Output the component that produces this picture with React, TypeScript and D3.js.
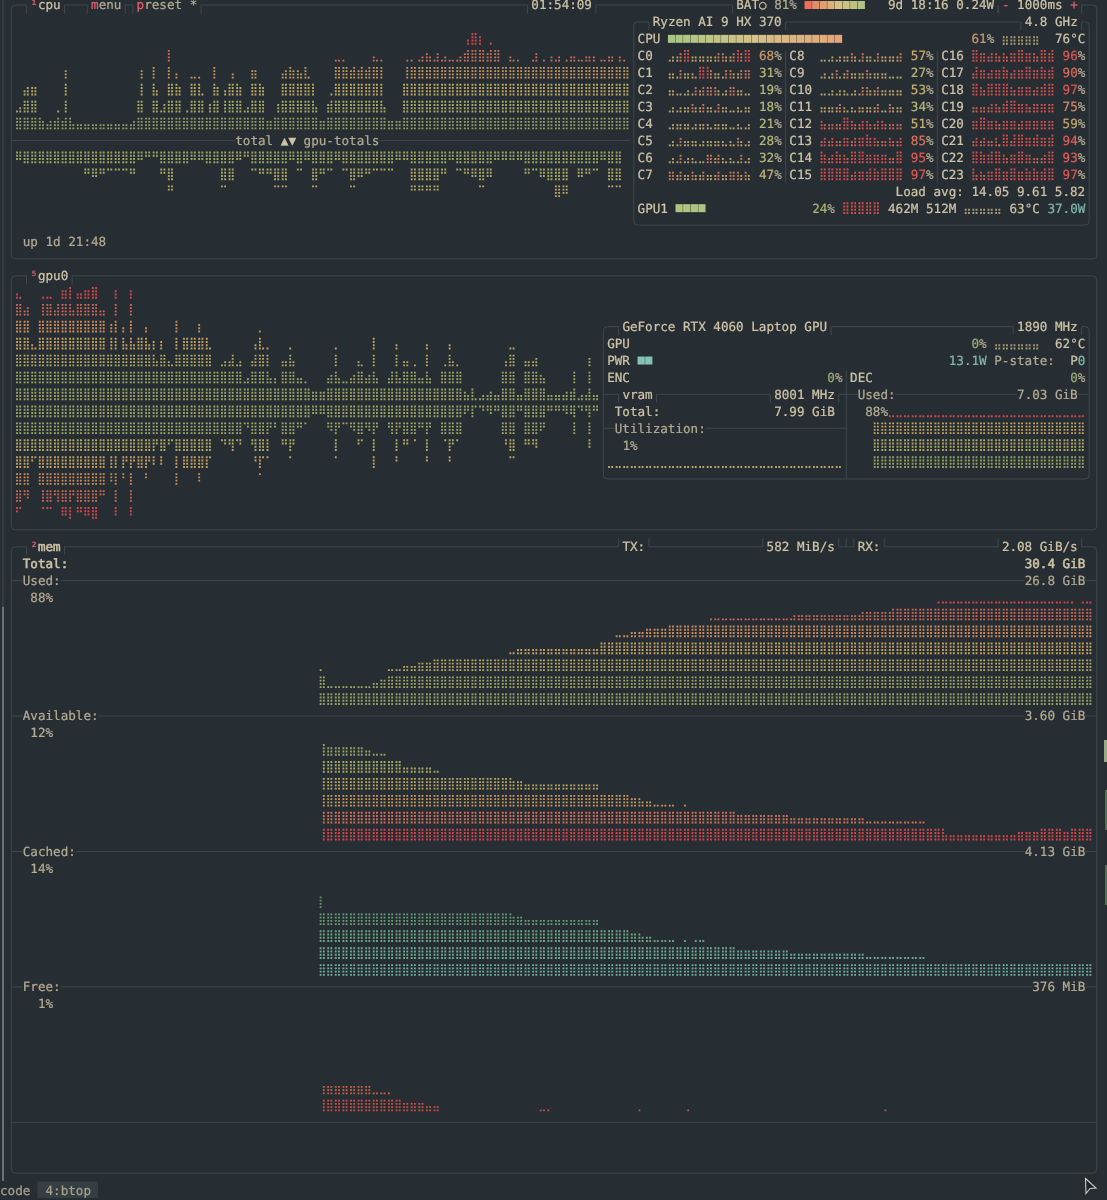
import * as d3 from 'd3'

const CW = 7.59
const RH = 16.93
const DOT_W = 1.85
const DOT_H = 1.9
const DOT_STEP_X = 3.2
const DOT_STEP_Y = 3.25

const BG = '#272e33'
const LINE = '#3d484d'
const FG = '#cfc3a7'
const DIM = '#b3aa92'
const RED = '#e0626a'
const TEAL = '#7fb8aa'

// cpu graph, dots per dot column (two per cell)
const cpuTotal = [
  5,6, 10,11, 11,11, 4,3, 2,3, 3,5, 3,15, 4,2, 2,2, 2,2, 2,2, 2,2, 2,2, 2,2, 2,2, 2,3,
  8,15, 4,4, 16,10, 5,7, 20,12, 14,11, 4,5, 13,13, 13,9, 4,7, 16,11, 4,10, 12,14, 12,11, 5,6, 15,15,
  12,11, 3,3, 4,7, 14,15, 16,15, 15,14, 16,13, 12,6, 3,3, 7,9, 17,17, 17,16, 15,16, 15,16, 15,16, 18,17,
  17,6, 3,3, 3,3, 12,17, 17,16, 17,18, 19,18, 17,19, 17,18, 17,17, 17,18, 19,22, 24,24, 23,20, 19,21, 20,20,
  16,16, 18,17, 17,16, 16,16, 17,19, 16,17, 16,18, 17,18, 16,17, 18,18, 17,17, 18,18, 18,16, 17,17, 18,18, 16,18, 17,16,
]
const gpuTotals = [
  3,3, 4,4, 4,4, 4,4, 4,4, 4,4, 4,4, 4,4, 4,4, 6,6, 7,7, 6,6, 5,5, 5,5, 5,5, 6,6, 3,3, 2,2, 2,2, 6,6,
  10,10, 4,4, 4,4, 3,3, 3,3, 4,4, 4,4, 9,9, 8,8, 3,3, 2,2, 5,5, 6,6, 6,6, 9,9, 9,9, 3,3, 5,5, 3,3, 9,9,
  6,6, 5,5, 3,3, 5,5, 9,9, 7,7, 6,6, 5,5, 5,5, 5,5, 3,3, 3,3, 10,10, 10,10, 10,10, 10,10, 6,6, 3,3, 5,5, 6,6,
  7,7, 9,9, 7,7, 3,3, 3,3, 3,3, 3,3, 6,6, 5,5, 7,7, 8,8, 12,12, 11,11, 4,4, 7,7, 6,6, 5,5, 3,3, 9,9, 9,9,
]

// gpu0 mirrored graph
const gpuLoad = [
  26,25, 22,23, 14,13, 20,25, 25,25, 22,24, 27,27, 28,22, 26,26, 27,27, 28,28, 22,22, 12,19, 27,12, 18,14, 27,14,
  16,16, 18,14, 15,10, 15,12, 10,9, 20,12, 16,16, 16,16, 19,16, 16,13, 8,8, 9,10, 10,12, 9,10, 5,6, 10,14,
  17,13, 13,6, 6,4, 10,10, 13,10, 6,6, 5,4, 3,3, 3,3, 6,7, 13,6, 5,5, 6,7, 10,9, 6,7, 16,6, 4,4, 6,8,
  14,6, 10,10, 8,9, 6,6, 14,6, 4,4, 8,9, 14,10, 9,8, 3,2, 4,1, 1,2, 2,3, 2,2, 8,10, 13,13, 2,2, 10,10,
  10,11, 7,6, 2,2, 2,2, 2,3, 3,8, 1,2, 2,11, 2,2,
]

// memory graphs, [height in dots, dot columns]
const memUsed = [[9,1],[8,1],[5,12],[6,2],[7,2],[9,2],[9,2],[10,4],[11,4],[12,20],[13,2],[14,22],[16,4],[17,4],[18,4],[19,6],[20,11],[21,22],[22,18],[23,8],[24,12],[25,36],[24,2],[25,3]]
const memAvailable = [[0,1],[24,1],[23,10],[22,2],[21,4],[20,4],[18,8],[17,2],[16,19],[15,3],[14,20],[12,8],[11,3],[10,3],[9,6],[8,2],[9,1],[8,13],[7,14],[6,20],[5,16],[4,5],[2,19],[3,6],[4,6],[3,2],[4,6]]
const memCached = [[20,1],[16,50],[15,3],[14,20],[12,8],[11,3],[10,3],[9,6],[8,2],[9,1],[8,2],[9,3],[8,8],[7,14],[6,20],[5,16],[4,44]]
const memFree = [[0,1],[7,1],[7,12],[5,5],[4,3],[3,6],[2,4],[0,26],[1,3],[0,23],[1,1],[0,12],[1,1],[0,51],[1,1],[0,54]]

const coreNames = ['C0','C1','C2','C3','C4','C5','C6','C7','C8','C9','C10','C11','C12','C13','C14','C15','C16','C17','C18','C19','C20','C21','C22','C23']
const corePct = [68,31,19,18,21,28,32,47,57,27,53,34,51,85,95,97,96,90,97,75,59,94,93,97]
const coreHist = [
  [1,2,2,3,4,4,2,2,2,2,2,2,2,3,3,2,2,3,4,3,4,4],
  [2,2,1,3,2,2,2,1,4,4,4,3,2,2,1,3,3,2,2,3,3,3],
  [2,2,1,1,1,2,1,3,2,3,3,3,3,2,1,2,3,3,2,2,1,1],
  [1,2,1,2,2,2,3,2,2,3,2,2,1,3,2,2,1,1,2,1,2,2],
  [1,2,2,2,2,2,1,2,2,2,2,1,2,2,2,2,1,1,2,1,1,2],
  [1,2,1,3,2,2,2,2,1,2,2,2,2,2,2,1,2,1,3,2,1,2],
  [1,2,1,3,1,2,2,1,1,1,3,3,2,3,2,1,2,1,1,3,1,2],
  [3,3,2,3,2,2,3,2,2,3,2,2,2,3,2,2,3,3,3,2,3,2],
  [1,1,1,2,1,2,2,2,3,2,1,3,2,2,1,3,2,2,2,2,2,3],
  [1,2,1,2,3,1,2,3,2,2,2,2,3,2,2,2,2,2,1,1,1,1],
  [1,1,1,2,1,2,2,1,1,2,1,3,3,2,2,3,2,2,2,2,2,2],
  [2,2,2,2,2,3,2,1,2,1,2,2,2,2,2,3,1,1,3,2,2,2],
  [3,2,2,2,2,2,4,4,3,2,2,3,3,2,2,3,3,2,2,2,2,2],
  [2,3,2,3,2,2,3,3,2,3,3,3,4,3,3,2,2,2,3,2,2,3],
  [4,3,2,3,4,3,3,2,4,4,4,4,3,3,3,3,3,3,2,2,4,4],
  [4,4,4,4,4,4,4,4,2,3,3,3,3,4,4,3,4,4,4,4,4,4],
  [4,4,3,3,2,3,3,2,3,2,3,3,4,4,3,3,3,2,4,4,3,4],
  [2,4,3,3,2,3,3,3,4,3,2,3,3,3,4,4,3,3,4,3,3,4],
  [4,4,3,2,4,4,4,4,4,4,3,2,3,3,3,3,2,3,3,4,4,4],
  [2,2,2,2,2,3,3,2,3,4,4,4,3,3,3,2,3,3,3,3,3,3],
  [3,3,4,4,3,3,3,2,3,3,3,3,2,3,3,3,3,3,3,3,3,3],
  [2,3,2,3,2,2,3,1,4,4,2,4,4,4,3,3,3,4,3,3,3,4],
  [4,4,4,3,3,4,4,4,3,2,3,3,4,4,3,3,2,2,2,3,4,4],
  [4,2,3,2,3,3,4,4,3,3,4,4,3,3,4,3,4,3,3,4,4,4],
]

const batteryBlocks = ['#ee6e5c','#e88a6c','#e09e74','#dcb07a','#d9bf80','#cdc280','#bdc282','#b2c284']
const cpuBarPct = 23
const gpu1BarBlocks = 4
const pwrBarBlocks = 2

const colX = d3.scaleLinear().domain([0, 146]).range([0, 146 * CW])
const rowY = d3.scaleLinear().domain([0, 71]).range([5, 5 + 71 * RH])
const heat = d3.scaleLinear<string>().domain([0, 0.2, 0.4, 0.6, 0.8, 1]).range(['#949f64', '#a6a764', '#bda862', '#c9985c', '#d0705a', '#d4464a'])
const tealHeat = d3.scaleLinear<string>().domain([0, 1]).range(['#6fb09f', '#67966c'])
const pctColor = d3.scaleLinear<string>().domain([0, 50, 75, 100]).range(['#a3bd7f', '#c4b26f', '#d28a68', '#e04f4f'])
const miniColor = d3.scaleLinear<string>().domain([1, 2, 3, 4]).range(['#b5a76e', '#c2a468', '#cc7a5e', '#d64f4f']).clamp(true)
const cpuBarColor = d3.scaleLinear<string>().domain([0, 0.5, 1]).range(['#a9c682', '#d5c288', '#e2a67a'])

const expand = (runs: number[][]) => d3.merge<number>(runs.map(([v, n]) => d3.range(n).map(() => v)))

function dotsByRow(values: number[], col: number, baseRow: number, dir: number) {
  const rows = new Map<number, d3.Path>()
  values.forEach((v, j) => {
    const x = colX(col + Math.floor(j / 2)) + 0.9 + (j % 2) * DOT_STEP_X
    for (let k = 0; k < v; k++) {
      const r = baseRow - dir * Math.floor(k / 4)
      const y = rowY(r) + dir * (1.5 - k % 4) * DOT_STEP_Y
      if (!rows.has(r)) rows.set(r, d3.path())
      rows.get(r)!.rect(x, y - DOT_H / 2, DOT_W, DOT_H)
    }
  })
  return [...rows.entries()]
}

// dir 1 grows upward from baseRow, -1 grows downward
function Graph({ values, col, baseRow, dir = 1, color }: { values: number[]; col: number; baseRow: number; dir?: number; color: (r: number) => string }) {
  return (
    <g>
      {dotsByRow(values, col, baseRow, dir).map(([r, p]) => (
        <path key={r} d={p.toString()} fill={color(r)} />
      ))}
    </g>
  )
}

function T({ c, r, fill = FG, children, thick = 0.22 }: { c: number; r: number; fill?: string; children: any; thick?: number }) {
  return (
    <text x={colX(c)} y={rowY(r) + 4.4} fill={fill} stroke={fill} strokeWidth={thick} xmlSpace="preserve">
      {children}
    </text>
  )
}

const mid = (c: number) => colX(c + 0.5)

function HSeg({ r, a, b }: { r: number; a: number; b: number }) {
  return <line x1={a} x2={b} y1={rowY(r)} y2={rowY(r)} stroke={LINE} />
}

function VSeg({ c, y0, y1 }: { c: number; y0: number; y1: number }) {
  return <line x1={mid(c)} x2={mid(c)} y1={y0} y2={y1} stroke={LINE} />
}

function Stub({ c, r, dir = 1 }: { c: number; r: number; dir?: number }) {
  return <VSeg c={c} y0={rowY(r)} y1={rowY(r) + dir * 8.4} />
}

function Frame({ c0, c1, r0, r1, gaps = [], stub = 1 }: { c0: number; c1: number; r0: number; r1: number; gaps?: number[][]; stub?: number }) {
  const x0 = mid(c0)
  const x1 = mid(c1)
  const y0 = rowY(r0)
  const y1 = rowY(r1)
  const rad = 4
  const p = d3.path()
  p.moveTo(x0 + rad, y0)
  p.quadraticCurveTo(x0, y0, x0, y0 + rad)
  p.lineTo(x0, y1 - rad)
  p.quadraticCurveTo(x0, y1, x0 + rad, y1)
  p.lineTo(x1 - rad, y1)
  p.quadraticCurveTo(x1, y1, x1, y1 - rad)
  p.lineTo(x1, y0 + rad)
  p.quadraticCurveTo(x1, y0, x1 - rad, y0)
  ;[...gaps].reverse().forEach(([a, b]) => {
    p.lineTo(mid(b), y0)
    p.moveTo(mid(a), y0)
  })
  p.lineTo(x0 + rad, y0)
  return (
    <g>
      <path d={p.toString()} fill="none" stroke={LINE} />
      {gaps.map(([a, b, dir]) => (
        <g key={a}>
          <Stub c={a} r={r0} dir={dir ?? stub} />
          <Stub c={b} r={r0} dir={dir ?? stub} />
        </g>
      ))}
    </g>
  )
}

function Bar({ c, r, colors }: { c: number; r: number; colors: string[] }) {
  return (
    <g>
      {colors.map((f, i) => (
        <rect key={i} x={colX(c + i)} y={rowY(r) - 4} width={CW - 0.35} height={8} fill={f} />
      ))}
    </g>
  )
}

function Pct({ c, r, value, fill }: { c: number; r: number; value: number; fill: string }) {
  return (
    <T c={c} r={r} fill={DIM}>
      <tspan fill={fill} stroke={fill}>{value}</tspan>%
    </T>
  )
}

export default function App() {
  const cpuRows = (r: number) => heat((7 - r) / 5)
  const gpuRows = (r: number) => heat(Math.abs(r - 23.5) < 1 ? 0.08 : (Math.abs(r - 23.5) - 0.5) / 6)
  const usedRows = (r: number) => heat((41 - r) / 6)
  const availRows = (r: number) => heat((r - 44) / 5)
  const cachedRows = (r: number) => tealHeat((57 - r) / 4)
  const coreCol = [84, 104, 124]

  return (
    <svg
      width={1107}
      height={1200}
      style={{ position: 'absolute', left: 0, top: 0, background: BG, filter: 'blur(0.35px)' }}
      fontFamily="'DejaVu Sans Mono', monospace"
      fontSize={12.6}
      textRendering="geometricPrecision"
    >
      {/* window edges */}
      <line x1={3} x2={3} y1={0} y2={607} stroke="#38444a" strokeWidth={1.5} />
      <line x1={3} x2={3} y1={607} y2={1181} stroke="#7f8d8a" strokeWidth={1.5} />
      <rect x={1104} y={740} width={3} height={22} fill="#9aa88c" />
      <rect x={1105} y={790} width={2} height={40} fill="#56704f" />
      <rect x={1105} y={865} width={2} height={40} fill="#56704f" />

      {/* cpu box */}
      <Frame c0={1} c1={144} r0={0} r1={15} gaps={[[3, 8], [11, 16], [17, 26], [69, 78], [96, 131], [131, 142]]} />
      <T c={4} r={0} fill={RED}>¹</T>
      <T c={5} r={0}>cpu</T>
      <T c={12} r={0} fill={DIM}><tspan fill={RED} stroke={RED}>m</tspan>enu</T>
      <T c={18} r={0} fill={DIM}><tspan fill={RED} stroke={RED}>p</tspan>reset *</T>
      <T c={70} r={0}>01:54:09</T>
      <T c={97} r={0}>BAT○</T>
      <T c={102} r={0} fill={DIM}>81%</T>
      <Bar c={106} r={0} colors={batteryBlocks} />
      <T c={117} r={0}>9d 18:16 0.24W</T>
      <T c={132} r={0} fill={RED}>-</T>
      <T c={134} r={0}>1000ms</T>
      <T c={141} r={0} fill={RED}>+</T>

      <Graph values={cpuTotal} col={2} baseRow={7} color={cpuRows} />
      <HSeg r={8} a={mid(1)} b={colX(31)} />
      <HSeg r={8} a={colX(50)} b={colX(83)} />
      <T c={31} r={8} fill={DIM}>total</T>
      <T c={37} r={8}>▲▼</T>
      <T c={40} r={8} fill={DIM}>gpu-totals</T>
      <Graph values={gpuTotals} col={2} baseRow={9} dir={-1} color={r => heat(0.12 + (r - 9) * 0.14)} />
      <T c={3} r={14} fill={DIM}>up 1d 21:48</T>

      {/* cpu info panel */}
      <Frame c0={83} c1={143} r0={1} r1={13} gaps={[[85, 103], [134, 142]]} />
      <T c={86} r={1}>Ryzen AI 9 HX 370</T>
      <T c={135} r={1}>4.8 GHz</T>
      <T c={84} r={2}>CPU</T>
      <Bar c={88} r={2} colors={d3.range(cpuBarPct).map(i => cpuBarColor(i / (cpuBarPct - 1)))} />
      <Pct c={128} r={2} value={61} fill="#cd9a6c" />
      <Graph values={[3,3,3,3,3,3,3,3,3,3]} col={132} baseRow={2} color={() => '#a89c74'} />
      <T c={139} r={2}>76°C</T>
      {coreNames.map((name, i) => {
        const g = Math.floor(i / 8)
        const r = 3 + (i % 8)
        const c = coreCol[g]
        return (
          <g key={name}>
            <T c={c} r={r}>{name}</T>
            {coreHist[i].map((h, j) => {
              const x = colX(c + 4 + Math.floor(j / 2)) + 0.9 + (j % 2) * DOT_STEP_X
              return d3.range(h).map(k => (
                <rect key={`${j}-${k}`} x={x} y={rowY(r) + (1.5 - k) * DOT_STEP_Y - DOT_H / 2} width={DOT_W} height={DOT_H} fill={miniColor(h + (i >= 12 ? 1.5 : 0))} />
              ))
            })}
            <Pct c={c + 16} r={r} value={corePct[i]} fill={pctColor(corePct[i])} />
          </g>
        )
      })}
      <VSeg c={103} y0={rowY(2.7)} y1={rowY(10.5)} />
      <VSeg c={123} y0={rowY(2.7)} y1={rowY(10.5)} />
      <T c={118} r={11}>Load avg: 14.05 9.61 5.82</T>
      <T c={84} r={12}>GPU1</T>
      <Bar c={89} r={12} colors={d3.range(gpu1BarBlocks).map(() => '#adc480')} />
      <Pct c={107} r={12} value={24} fill="#a9b46f" />
      <Graph values={[4,4,4,4,4,4,4,4,4,4]} col={111} baseRow={12} color={() => '#d44c4c'} />
      <T c={117} r={12}>462M</T>
      <T c={122} r={12}>512M</T>
      <Graph values={[2,2,2,2,2,2,2,2,2,2]} col={127} baseRow={12} color={() => '#a89c74'} />
      <T c={133} r={12}>63°C</T>
      <T c={138} r={12} fill={TEAL}>37.0W</T>

      {/* gpu box */}
      <Frame c0={1} c1={144} r0={16} r1={31} gaps={[[3, 9]]} />
      <T c={4} r={16} fill={RED}>⁵</T>
      <T c={5} r={16}>gpu0</T>
      <Graph values={gpuLoad} col={2} baseRow={23} color={gpuRows} />
      <Graph values={gpuLoad} col={2} baseRow={24} dir={-1} color={gpuRows} />

      {/* gpu info panel */}
      <rect x={mid(79)} y={rowY(19)} width={mid(143) - mid(79)} height={rowY(28) - rowY(19)} fill={BG} />
      <Frame c0={79} c1={143} r0={19} r1={28} gaps={[[81, 109], [133, 142]]} />
      <T c={82} r={19}>GeForce RTX 4060 Laptop GPU</T>
      <T c={134} r={19}>1890 MHz</T>
      <T c={80} r={20}>GPU</T>
      <Pct c={128} r={20} value={0} fill="#93ad74" />
      <Graph values={[2,2,2,2,2,2,2,2,2,2,2,2]} col={131} baseRow={20} color={() => '#a89c74'} />
      <T c={139} r={20}>62°C</T>
      <T c={80} r={21}>PWR</T>
      <Bar c={84} r={21} colors={d3.range(pwrBarBlocks).map(() => '#85c3b6')} />
      <T c={125} r={21} fill={TEAL}>13.1W</T>
      <T c={131} r={21} fill={DIM}>P-state:</T>
      <T c={141} r={21}>P<tspan fill={TEAL} stroke={TEAL}>0</tspan></T>
      <T c={80} r={22}>ENC</T>
      <Pct c={109} r={22} value={0} fill="#93ad74" />
      <T c={112} r={22}>DEC</T>
      <Pct c={141} r={22} value={0} fill="#93ad74" />
      <VSeg c={111} y0={rowY(21.6)} y1={rowY(28)} />
      <HSeg r={23} a={mid(79)} b={mid(81)} />
      <HSeg r={23} a={mid(86)} b={mid(101)} />
      <HSeg r={23} a={mid(110)} b={colX(113)} />
      <HSeg r={23} a={colX(118)} b={colX(134)} />
      <HSeg r={23} a={colX(142)} b={mid(143)} />
      <Stub c={81} r={23} />
      <Stub c={86} r={23} />
      <Stub c={101} r={23} />
      <Stub c={110} r={23} />
      <T c={82} r={23}>vram</T>
      <T c={102} r={23}>8001 MHz</T>
      <T c={113} r={23} fill={DIM}>Used:</T>
      <T c={134} r={23} fill={DIM}>7.03 GiB</T>
      <T c={81} r={24}>Total:</T>
      <T c={102} r={24}>7.99 GiB</T>
      <T c={114} r={24} fill={DIM}>88%</T>
      <HSeg r={25} a={mid(79)} b={colX(81)} />
      <HSeg r={25} a={colX(93)} b={mid(111)} />
      <T c={81} r={25} fill={DIM}>Utilization:</T>
      <T c={82} r={26} fill={DIM}>1%</T>
      <Graph values={expand([[1, 62]])} col={80} baseRow={27} color={() => '#c2a468'} />
      <Graph values={expand([[12, 56]])} col={115} baseRow={27} color={r => heat((27 - r) / 3 * 0.72)} />
      <Graph values={expand([[0, 4], [13, 52]])} col={115} baseRow={27} color={r => (r === 24 ? '#d24a4a' : 'none')} />

      {/* mem box */}
      <Frame c0={1} c1={144} r0={32} r1={69} gaps={[[3, 8], [81, 85, -1], [100, 110, -1], [112, 116, -1], [131, 142, -1]]} />
      <Stub c={111} r={32} dir={-1} />
      <T c={4} r={32} fill={RED}>²</T>
      <T c={5} r={32} thick={0.5}>mem</T>
      <T c={82} r={32}>TX:</T>
      <T c={101} r={32}>582 MiB/s</T>
      <T c={113} r={32}>RX:</T>
      <T c={132} r={32}>2.08 GiB/s</T>
      <T c={3} r={33} thick={0.5}>Total:</T>
      <T c={135} r={33} thick={0.5}>30.4 GiB</T>

      {([[34, 'Used:', '26.8 GiB', 135], [42, 'Available:', '3.60 GiB', 135], [50, 'Cached:', '4.13 GiB', 135], [58, 'Free:', '376 MiB', 136]] as [number, string, string, number][]).map(([r, label, amount, c]) => (
        <g key={label}>
          <HSeg r={r} a={mid(1)} b={colX(3)} />
          <HSeg r={r} a={colX(3 + label.length)} b={colX(c)} />
          <HSeg r={r} a={colX(143)} b={mid(144)} />
          <T c={3} r={r} fill={DIM}>{label}</T>
          <T c={c} r={r} fill={DIM}>{amount}</T>
        </g>
      ))}
      <T c={4} r={35} fill={DIM}>88%</T>
      <T c={4} r={43} fill={DIM}>12%</T>
      <T c={4} r={51} fill={DIM}>14%</T>
      <T c={5} r={59} fill={DIM}>1%</T>
      <Graph values={expand(memUsed)} col={42} baseRow={41} color={usedRows} />
      <Graph values={expand(memAvailable)} col={42} baseRow={49} color={availRows} />
      <Graph values={expand(memCached)} col={42} baseRow={57} color={cachedRows} />
      <Graph values={expand(memFree)} col={42} baseRow={65} color={r => (r === 65 ? '#c94f44' : '#c9604a')} />
      <HSeg r={66} a={mid(1)} b={mid(144)} />

      {/* tmux status */}
      <rect x={37.5} y={1181.5} width={60.5} height={16.5} fill="#343e43" />
      <T c={0} r={70} fill="#a8a18c">code</T>
      <T c={6} r={70} fill="#a8a18c">4:btop</T>
      <path d="M1085.5 1178.5 L1096 1188 L1090 1188.5 L1086 1193.5 Z" fill="#1f2528" stroke="#c9cdc8" strokeWidth={1.1} />
    </svg>
  )
}
